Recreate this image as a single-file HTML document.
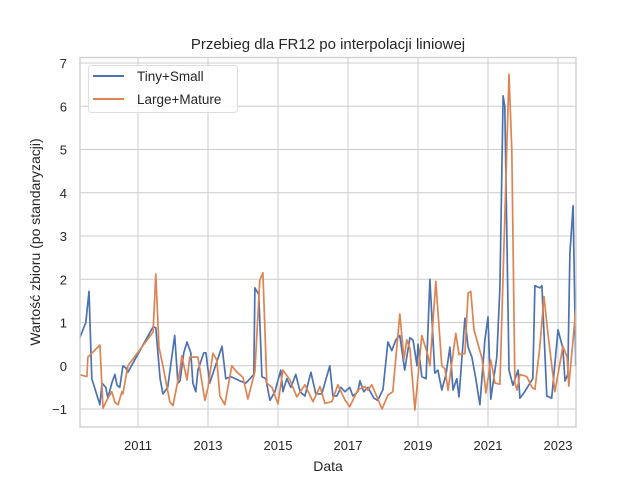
<!DOCTYPE html>
<html><head><meta charset="utf-8"><style>
body{margin:0;background:#fff;}
svg text{font-family:"Liberation Sans",sans-serif;fill:#262626;}
</style></head><body>
<svg id="chart" width="640" height="480">
<rect width="640" height="480" fill="#fff"/>
<g id="grid"></g>
<g id="series"></g>
<rect x="80" y="57.5" width="496" height="369.5" fill="none" stroke="#cccccc" stroke-width="1.3"/>
<g id="ticks"></g>
<text x="328" y="49" text-anchor="middle" font-size="15">Przebieg dla FR12 po interpolacji liniowej</text>
<text x="328" y="471" text-anchor="middle" font-size="14">Data</text>
<text transform="translate(40,242) rotate(-90)" text-anchor="middle" font-size="14">Wartość zbioru (po standaryzacji)</text>
<g>
<rect x="88.5" y="65.5" width="149" height="47" rx="3" fill="#fff" fill-opacity="0.8" stroke="#dddddd"/>
<line x1="93" y1="76" x2="124" y2="76" stroke="#4c72b0" stroke-width="2"/>
<text x="137" y="81" font-size="13.5">Tiny+Small</text>
<line x1="93" y1="99" x2="124" y2="99" stroke="#dd8452" stroke-width="2"/>
<text x="137" y="104" font-size="13.5">Large+Mature</text>
</g>
</svg>
<script>
const xTicks=[2011,2013,2015,2017,2019,2021,2023];
const yTicks=[-1,0,1,2,3,4,5,6,7];
const tinyYears=[2009.34,2009.51,2009.60,2009.68,2009.91,2009.97,2010.08,2010.14,2010.25,2010.34,2010.40,2010.48,2010.57,2010.65,2010.71,2011.43,2011.51,2011.63,2011.71,2011.85,2012.05,2012.14,2012.20,2012.31,2012.40,2012.51,2012.57,2012.65,2012.71,2012.88,2012.94,2013.05,2013.40,2013.51,2013.65,2013.91,2014.08,2014.20,2014.31,2014.34,2014.45,2014.54,2014.65,2014.77,2014.91,2015.08,2015.14,2015.25,2015.37,2015.51,2015.63,2015.77,2015.94,2016.08,2016.25,2016.48,2016.57,2016.68,2016.80,2016.91,2017.05,2017.14,2017.28,2017.34,2017.45,2017.57,2017.74,2017.85,2018.00,2018.14,2018.25,2018.37,2018.48,2018.62,2018.77,2018.86,2018.97,2019.00,2019.11,2019.23,2019.34,2019.48,2019.57,2019.68,2019.80,2019.91,2020.00,2020.11,2020.17,2020.34,2020.43,2020.54,2020.65,2020.77,2020.91,2021.00,2021.08,2021.25,2021.34,2021.43,2021.48,2021.60,2021.71,2021.86,2021.91,2022.05,2022.20,2022.28,2022.34,2022.48,2022.54,2022.68,2022.82,2023.00,2023.14,2023.20,2023.28,2023.34,2023.43,2023.51];
const tinyValues=[0.65,1.0,1.72,-0.3,-0.9,-0.4,-0.5,-0.75,-0.4,-0.2,-0.45,-0.5,0,-0.05,-0.15,0.9,0.88,-0.3,-0.65,-0.5,0.7,-0.4,-0.35,0.3,0.55,0.3,-0.4,-0.6,-0.1,0.3,0.3,-0.4,0.45,-0.3,-0.25,-0.35,-0.4,-0.3,-0.2,1.8,1.65,-0.25,-0.3,-0.8,-0.6,-0.1,-0.6,-0.3,-0.5,-0.2,-0.6,-0.7,-0.15,-0.65,-0.65,0,-0.7,-0.7,-0.5,-0.6,-0.5,-0.7,-0.6,-0.35,-0.6,-0.5,-0.75,-0.8,-0.55,0.55,0.35,0.6,0.7,-0.1,0.65,0.59,0,0.5,-0.25,-0.3,2.0,-0.17,-0.1,-0.56,-0.2,0.43,-0.56,-0.3,-0.72,1.1,0.43,0.2,-0.3,-0.9,0.6,1.13,-0.77,0.2,1.8,6.24,6.0,-0.1,-0.45,-0.1,-0.75,-0.6,-0.4,-0.3,1.85,1.8,1.85,-0.7,-0.75,0.83,0.4,-0.35,-0.2,2.6,3.7,0];
const largeYears=[2009.34,2009.54,2009.57,2009.91,2010.00,2010.14,2010.25,2010.34,2010.43,2010.54,2010.57,2010.71,2011.43,2011.51,2011.60,2011.71,2011.91,2012.00,2012.20,2012.25,2012.40,2012.48,2012.71,2012.91,2013.00,2013.14,2013.25,2013.34,2013.48,2013.68,2013.83,2014.00,2014.14,2014.34,2014.48,2014.57,2014.68,2014.83,2015.00,2015.14,2015.34,2015.54,2015.77,2016.00,2016.20,2016.34,2016.54,2016.71,2016.91,2017.05,2017.28,2017.48,2017.57,2017.68,2017.83,2017.97,2018.14,2018.28,2018.48,2018.60,2018.68,2018.77,2018.91,2019.11,2019.28,2019.34,2019.51,2019.68,2019.77,2019.86,2020.08,2020.17,2020.34,2020.43,2020.51,2020.60,2020.83,2020.94,2021.08,2021.20,2021.34,2021.60,2021.68,2021.77,2021.83,2021.91,2022.11,2022.26,2022.34,2022.48,2022.60,2022.71,2022.91,2023.14,2023.26,2023.31,2023.51];
const largeValues=[-0.21,-0.25,0.2,0.48,-0.98,-0.75,-0.6,-0.85,-0.9,-0.6,-0.65,0,0.78,2.12,0.43,0,-0.84,-0.92,-0.1,0.23,-0.33,0.2,0.2,-0.8,-0.5,0.29,0.13,-0.7,-0.9,0,-0.15,-0.27,-0.77,-0.13,1.98,2.15,-0.4,-0.5,-0.88,-0.1,-0.33,-0.72,-0.44,-0.83,-0.48,-0.87,-0.83,-0.44,-0.79,-0.95,-0.56,-0.48,-0.56,-0.44,-0.72,-1.0,-0.68,-0.6,1.2,0.15,0.6,0.4,-1.02,0.7,0.25,0,1.95,0,-0.07,-0.57,0.75,0.26,0.28,1.68,1.72,0.83,0.17,-0.63,0.13,-0.4,-0.43,6.74,5.0,-0.4,-0.56,-0.2,-0.25,-0.5,-0.55,0.43,1.6,0.75,-0.6,0.45,0.2,-0.47,1.3];

const NS='http://www.w3.org/2000/svg';
const X0=80,X1=576,Y0=57.5,Y1=427;
function xs(y){return 138+(y-2011)*35;}
function ys(v){return 365.75-v*43.25;}
const grid=document.getElementById('grid'),ticks=document.getElementById('ticks'),series=document.getElementById('series');
xTicks.forEach(t=>{
  const l=document.createElementNS(NS,'line');
  l.setAttribute('x1',xs(t));l.setAttribute('x2',xs(t));l.setAttribute('y1',Y0);l.setAttribute('y2',Y1);
  l.setAttribute('stroke','#cccccc');l.setAttribute('stroke-width','1');
  
  
  grid.appendChild(l);
  const tx=document.createElementNS(NS,'text');
  tx.setAttribute('x',xs(t));tx.setAttribute('y',450);tx.setAttribute('text-anchor','middle');tx.setAttribute('font-size','13');
  tx.textContent=t;
  
  
  ticks.appendChild(tx);
});
yTicks.forEach(t=>{
  const l=document.createElementNS(NS,'line');
  l.setAttribute('x1',X0);l.setAttribute('x2',X1);l.setAttribute('y1',ys(t));l.setAttribute('y2',ys(t));
  l.setAttribute('stroke','#cccccc');l.setAttribute('stroke-width','1');
  
  
  grid.appendChild(l);
  const tx=document.createElementNS(NS,'text');
  tx.setAttribute('x',67);tx.setAttribute('y',ys(t)+5);tx.setAttribute('text-anchor','end');tx.setAttribute('font-size','13');
  tx.textContent=t<0?'\u2212'+Math.abs(t):t;
  
  
  ticks.appendChild(tx);
});
function draw(yrs,vals,color,name){
  const p=document.createElementNS(NS,'polyline');
  p.setAttribute('points',yrs.map((y,i)=>xs(y).toFixed(1)+','+ys(vals[i]).toFixed(1)).join(' '));
  p.setAttribute('fill','none');p.setAttribute('stroke',color);p.setAttribute('stroke-width','1.7');p.setAttribute('stroke-linejoin','round');
  
  
  series.appendChild(p);
}
draw(tinyYears,tinyValues,'#4c72b0','series-tiny-small');
draw(largeYears,largeValues,'#dd8452','series-large-mature');
</script>
</body></html>
